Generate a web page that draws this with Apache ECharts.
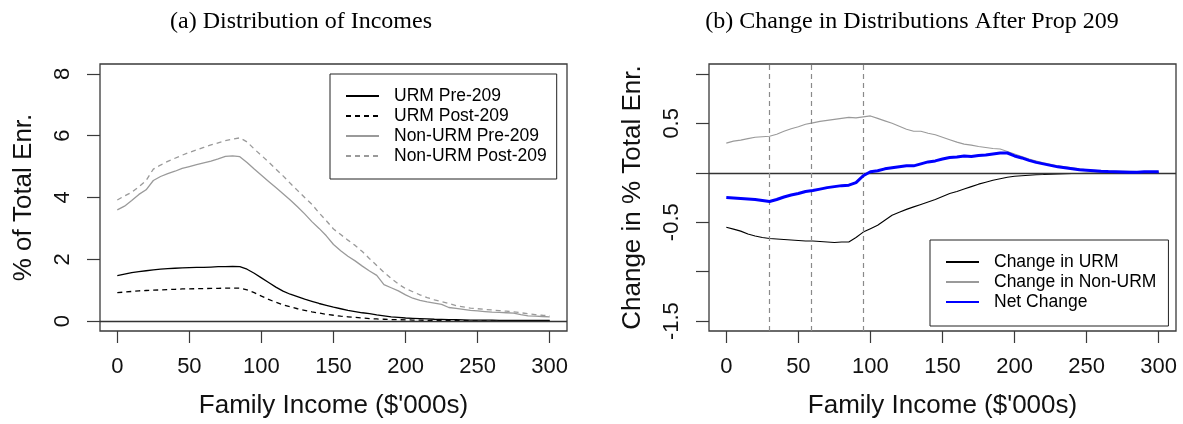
<!DOCTYPE html>
<html>
<head>
<meta charset="utf-8">
<script src="https://cdn.jsdelivr.net/npm/echarts@6/dist/echarts.min.js"></script>
<style>
  html, body { margin: 0; padding: 0; background: #fff; }
  #chart { width: 1183px; height: 424px; }
</style>
</head>
<body>
<div id="chart"></div>
<script>
// Family income grid ($'000s)
const income = [0, 5, 10, 15, 20, 25, 30, 35, 40, 45, 50, 55, 60, 65, 70, 75, 80, 85, 90, 95,
  100, 105, 110, 115, 120, 125, 130, 135, 140, 145, 150, 155, 160, 165, 170, 175, 180, 185, 190, 195,
  200, 205, 210, 215, 220, 225, 230, 235, 240, 245, 250, 255, 260, 265, 270, 275, 280, 285, 290, 295, 300];

// Panel (a): % of total enrollment by family income
const urmPre = [1.47, 1.52, 1.57, 1.60, 1.63, 1.66, 1.68, 1.70, 1.71, 1.72, 1.73, 1.74, 1.74, 1.75, 1.76, 1.76, 1.77, 1.76, 1.68, 1.55,
  1.40, 1.25, 1.10, 0.97, 0.87, 0.79, 0.71, 0.64, 0.57, 0.51, 0.45, 0.40, 0.35, 0.31, 0.27, 0.24, 0.20, 0.17, 0.14, 0.12,
  0.10, 0.09, 0.08, 0.07, 0.06, 0.055, 0.05, 0.045, 0.04, 0.035, 0.03, 0.03, 0.03, 0.025, 0.02, 0.02, 0.02, 0.02, 0.02, 0.02, 0.02];
const urmPost = [0.92, 0.94, 0.96, 0.98, 0.99, 1.00, 1.01, 1.02, 1.03, 1.04, 1.04, 1.05, 1.05, 1.06, 1.06, 1.07, 1.07, 1.07, 1.01, 0.92,
  0.81, 0.70, 0.61, 0.53, 0.46, 0.40, 0.35, 0.30, 0.26, 0.22, 0.19, 0.16, 0.14, 0.12, 0.10, 0.08, 0.07, 0.06, 0.05, 0.045,
  0.04, 0.035, 0.03, 0.025, 0.02, 0.02, 0.02, 0.015, 0.015, 0.01, 0.01, 0.01, 0.01, 0.01, 0.01, 0.01, 0.01, 0.01, 0.01, 0.01, 0.01];
const nonUrmPre = [3.60, 3.72, 3.90, 4.10, 4.25, 4.55, 4.68, 4.77, 4.85, 4.94, 5.00, 5.06, 5.12, 5.18, 5.25, 5.33, 5.35, 5.32, 5.13, 4.92,
  4.72, 4.52, 4.32, 4.12, 3.92, 3.70, 3.47, 3.22, 3.00, 2.76, 2.48, 2.28, 2.10, 1.95, 1.78, 1.62, 1.48, 1.18, 1.08, 0.98,
  0.85, 0.74, 0.67, 0.62, 0.58, 0.54, 0.44, 0.41, 0.38, 0.35, 0.33, 0.31, 0.29, 0.28, 0.27, 0.26, 0.21, 0.17, 0.16, 0.15, 0.14];
const nonUrmPost = [3.92, 4.05, 4.17, 4.35, 4.55, 4.92, 5.05, 5.17, 5.27, 5.37, 5.46, 5.54, 5.62, 5.70, 5.77, 5.84, 5.89, 5.93, 5.80, 5.57,
  5.36, 5.15, 4.92, 4.70, 4.46, 4.23, 4.00, 3.78, 3.50, 3.25, 2.98, 2.80, 2.62, 2.45, 2.25, 2.02, 1.80, 1.58, 1.38, 1.20,
  1.05, 0.95, 0.85, 0.76, 0.69, 0.63, 0.57, 0.50, 0.46, 0.42, 0.40, 0.38, 0.36, 0.34, 0.32, 0.30, 0.27, 0.24, 0.21, 0.19, 0.18];

// Panel (b): change in % of total enrollment after Prop 209
const changeUrm = [-0.55, -0.57, -0.59, -0.62, -0.64, -0.655, -0.665, -0.67, -0.675, -0.68, -0.685, -0.69, -0.69, -0.695, -0.70, -0.705, -0.70, -0.70, -0.655, -0.60,
  -0.565, -0.53, -0.48, -0.43, -0.40, -0.37, -0.345, -0.32, -0.295, -0.27, -0.24, -0.21, -0.19, -0.165, -0.14, -0.115, -0.095, -0.075, -0.06, -0.045,
  -0.035, -0.03, -0.025, -0.02, -0.018, -0.015, -0.012, -0.01, -0.008, -0.007, -0.006, -0.005, -0.004, -0.004, -0.003, -0.003, -0.002, -0.002, -0.001, -0.001, 0];
const changeNonUrm = [0.30, 0.32, 0.33, 0.345, 0.36, 0.365, 0.37, 0.39, 0.42, 0.445, 0.465, 0.49, 0.505, 0.52, 0.53, 0.54, 0.55, 0.56, 0.555, 0.565,
  0.575, 0.55, 0.525, 0.50, 0.47, 0.44, 0.42, 0.42, 0.40, 0.385, 0.36, 0.335, 0.31, 0.29, 0.28, 0.265, 0.255, 0.245, 0.24, 0.215,
  0.19, 0.165, 0.14, 0.12, 0.10, 0.085, 0.07, 0.06, 0.05, 0.04, 0.03, 0.025, 0.02, 0.018, 0.015, 0.015, 0.015, 0.013, 0.012, 0.011, 0.01];
const netChange = [-0.25, -0.255, -0.26, -0.265, -0.27, -0.28, -0.29, -0.27, -0.245, -0.225, -0.21, -0.19, -0.18, -0.165, -0.15, -0.14, -0.13, -0.125, -0.10, -0.03,
  0.01, 0.02, 0.04, 0.05, 0.06, 0.07, 0.07, 0.09, 0.11, 0.12, 0.14, 0.155, 0.16, 0.17, 0.165, 0.175, 0.18, 0.19, 0.20, 0.20,
  0.17, 0.15, 0.125, 0.105, 0.09, 0.075, 0.06, 0.05, 0.04, 0.03, 0.025, 0.02, 0.015, 0.012, 0.01, 0.008, 0.005, 0.006, 0.01, 0.01, 0.01];

// Income cut-offs marked in panel (b)
const cutoffs = [30, 59, 95];

// Tick positions
const xTicks = [0, 50, 100, 150, 200, 250, 300];
const yTicksA = [0, 2, 4, 6, 8];
const yTicksB = [-1.5, -1.0, -0.5, 0, 0.5, 1.0];
const yLabelsB = [-1.5, -0.5, 0.5];

const SANS = 'Liberation Sans, Arial, sans-serif';
const SERIF = 'Liberation Serif, Times New Roman, serif';
const INK = '#111';
const FRAME = '#3a3a3a';
const GREY = '#9a9a9a';

const pairs = (ys) => income.map((x, i) => [x, ys[i]]);

function xAxisFor(gridIndex) {
  return {
    gridIndex, type: 'value', min: -12, max: 312,
    axisLine: { show: false, onZero: false },
    axisTick: { show: true, length: 12, customValues: xTicks, lineStyle: { color: FRAME, width: 1.2 } },
    axisLabel: { customValues: xTicks, margin: 25, fontSize: 22, fontFamily: SANS, color: INK },
    splitLine: { show: false },
    name: "Family Income ($'000s)", nameLocation: 'middle', nameGap: 62,
    nameTextStyle: { fontSize: 26, fontFamily: SANS, color: INK }
  };
}

function yAxisFor(gridIndex, min, max, ticks, labels, name) {
  return {
    gridIndex, type: 'value', min, max,
    axisLine: { show: false, onZero: false },
    axisTick: { show: true, length: 13, customValues: ticks, lineStyle: { color: FRAME, width: 1.2 } },
    axisLabel: { customValues: labels, rotate: 90, margin: 26, fontSize: 22, fontFamily: SANS, color: INK },
    splitLine: { show: false },
    name, nameLocation: 'middle', nameGap: 63, nameRotate: 90,
    nameTextStyle: { fontSize: 26, fontFamily: SANS, color: INK }
  };
}

function legendFor(names, left, top, padding) {
  return {
    data: names,
    orient: 'vertical', left, top, padding,
    itemGap: 0, itemWidth: 33, itemHeight: 14,
    borderColor: '#222', borderWidth: 1, backgroundColor: '#fff',
    selectedMode: false,
    // line-only keys: no marker symbol
    itemStyle: { opacity: 0 },
    textStyle: { fontFamily: SANS, fontSize: 17.5, color: '#000', lineHeight: 20, padding: [0, 0, 0, 10] }
  };
}

const zeroLine = {
  silent: true, symbol: 'none', animation: false,
  label: { show: false },
  lineStyle: { color: '#333', width: 1.4, type: 'solid' },
  data: [{ yAxis: 0 }]
};

const lineBase = { type: 'line', showSymbol: false, symbol: 'none', animation: false, silent: true };

const option = {
  backgroundColor: '#fff',
  animation: false,
  title: [
    { text: '(a) Distribution of Incomes', left: 296, top: 5, textAlign: 'center',
      textStyle: { fontFamily: SERIF, fontSize: 24, fontWeight: 'normal', color: '#000' } },
    { text: '(b) Change in Distributions After Prop 209', left: 907, top: 5, textAlign: 'center',
      textStyle: { fontFamily: SERIF, fontSize: 24, fontWeight: 'normal', color: '#000' } }
  ],
  grid: [
    { left: 100, top: 64, width: 467, height: 268, show: true, borderColor: FRAME, borderWidth: 1.3, containLabel: false },
    { left: 709, top: 64, width: 467, height: 268, show: true, borderColor: FRAME, borderWidth: 1.3, containLabel: false }
  ],
  xAxis: [xAxisFor(0), xAxisFor(1)],
  yAxis: [
    yAxisFor(0, -0.32, 8.32, yTicksA, yTicksA, '% of Total Enr.'),
    yAxisFor(1, -1.6, 1.1, yTicksB, yLabelsB, 'Change in % Total Enr.')
  ],
  legend: [
    legendFor(['URM Pre-209', 'URM Post-209', 'Non-URM Pre-209', 'Non-URM Post-209'], 330, 74, [12, 10, 13, 15]),
    legendFor(['Change in URM', 'Change in Non-URM', 'Net Change'], 930, 240, [12, 12, 14, 15])
  ],
  series: [
    Object.assign({}, lineBase, {
      name: 'URM Pre-209', xAxisIndex: 0, yAxisIndex: 0, data: pairs(urmPre),
      lineStyle: { color: '#000', width: 1.3, type: 'solid' }, itemStyle: { color: '#000' },
      markLine: zeroLine
    }),
    Object.assign({}, lineBase, {
      name: 'URM Post-209', xAxisIndex: 0, yAxisIndex: 0, data: pairs(urmPost),
      lineStyle: { color: '#000', width: 1.3, type: [5, 4] }, itemStyle: { color: '#000' }
    }),
    Object.assign({}, lineBase, {
      name: 'Non-URM Pre-209', xAxisIndex: 0, yAxisIndex: 0, data: pairs(nonUrmPre),
      lineStyle: { color: GREY, width: 1.3, type: 'solid' }, itemStyle: { color: GREY }
    }),
    Object.assign({}, lineBase, {
      name: 'Non-URM Post-209', xAxisIndex: 0, yAxisIndex: 0, data: pairs(nonUrmPost),
      lineStyle: { color: GREY, width: 1.3, type: [5, 4] }, itemStyle: { color: GREY }
    }),
    Object.assign({}, lineBase, {
      name: 'Change in URM', xAxisIndex: 1, yAxisIndex: 1, data: pairs(changeUrm),
      lineStyle: { color: '#000', width: 1.1 }, itemStyle: { color: '#000' },
      markLine: {
        silent: true, symbol: 'none', animation: false,
        label: { show: false },
        data: [
          { yAxis: 0, lineStyle: { color: '#333', width: 1.4, type: 'solid' } }
        ].concat(cutoffs.map(v => ({ xAxis: v, lineStyle: { color: '#8a8a8a', width: 1.2, type: [5, 4] } })))
      }
    }),
    Object.assign({}, lineBase, {
      name: 'Change in Non-URM', xAxisIndex: 1, yAxisIndex: 1, data: pairs(changeNonUrm),
      lineStyle: { color: GREY, width: 1.1 }, itemStyle: { color: GREY }
    }),
    Object.assign({}, lineBase, {
      name: 'Net Change', xAxisIndex: 1, yAxisIndex: 1, data: pairs(netChange), z: 5,
      lineStyle: { color: '#0000ff', width: 3 }, itemStyle: { color: '#0000ff' }
    })
  ]
};

const chart = echarts.init(document.getElementById('chart'), null, { renderer: 'canvas' });
chart.setOption(option);
</script>
</body>
</html>
